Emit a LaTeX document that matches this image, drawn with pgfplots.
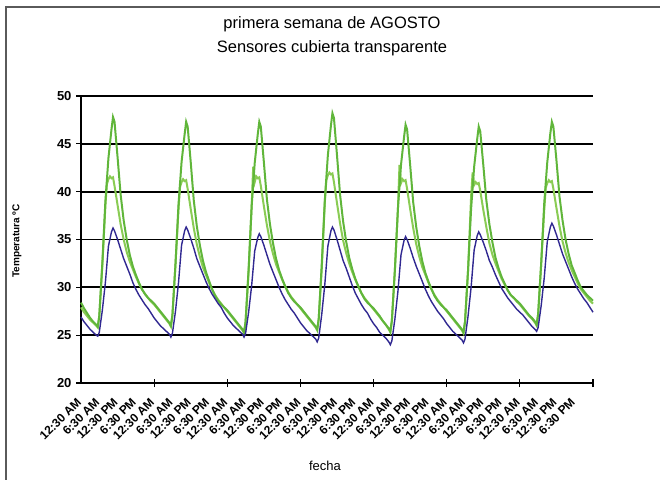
\documentclass[border=0pt]{standalone}
\usepackage{fontspec}
\setmainfont{Liberation Sans}
\setsansfont{Liberation Sans}
\usepackage{pgfplots}
\pgfplotsset{compat=1.18}
\usepackage{pgfplotstable}

\definecolor{sensorblue}{RGB}{48,40,145}
\definecolor{sensorgreenA}{RGB}{96,182,58}
\definecolor{sensorgreenB}{RGB}{138,204,84}
\definecolor{framegray}{RGB}{90,90,90}

% hourly readings, h = hours since 12:30 AM of the first day
\pgfplotstableread{
h t
0 26.9
1 26.4
2 26.0
3 25.6
4 25.3
5 25.0
5.5 24.9
6 25.3
7 27.6
8 30.5
9 34.3
10 35.8
10.5 36.2
11 35.9
12 35.0
13 34.0
14 33.0
15 32.2
16 31.4
17 30.5
18 29.8
19 29.2
20 28.7
21 28.2
22 27.8
23 27.3
24 26.8
25 26.4
26 26.0
27 25.7
28 25.4
29 25.1
29.5 24.8
30 25.2
31 27.5
32 30.5
33 34.4
34 35.9
34.5 36.3
35 36.0
36 35.1
37 34.1
38 33.0
39 32.2
40 31.4
41 30.6
42 29.9
43 29.3
44 28.8
45 28.3
46 27.9
47 27.3
48 26.8
49 26.4
50 26.0
51 25.7
52 25.4
53 25.1
53.5 24.8
54 25.2
55 27.4
56 30.2
57 33.8
58 35.2
58.5 35.6
59 35.3
60 34.4
61 33.4
62 32.4
63 31.6
64 30.8
65 30.0
66 29.3
67 28.7
68 28.2
69 27.7
70 27.3
71 26.8
72 26.3
73 25.9
74 25.5
75 25.2
76 24.9
77 24.6
77.5 24.3
78 24.7
79 27.2
80 30.3
81 34.3
82 35.9
82.5 36.3
83 36.0
84 35.0
85 33.9
86 32.8
87 32.0
88 31.1
89 30.2
90 29.4
91 28.8
92 28.2
93 27.7
94 27.3
95 26.7
96 26.2
97 25.8
98 25.3
99 25.0
100 24.7
101 24.3
101.5 24.0
102 24.4
103 26.7
104 29.6
105 33.4
106 34.9
106.5 35.3
107 35.0
108 34.1
109 33.1
110 32.2
111 31.4
112 30.6
113 29.8
114 29.1
115 28.5
116 28.0
117 27.5
118 27.1
119 26.7
120 26.2
121 25.8
122 25.4
123 25.1
124 24.8
125 24.5
125.5 24.2
126 24.6
127 27.0
128 30.0
129 33.9
130 35.4
130.5 35.8
131 35.5
132 34.7
133 33.8
134 32.8
135 32.1
136 31.3
137 30.6
138 29.9
139 29.4
140 28.9
141 28.5
142 28.1
143 27.7
144 27.4
145 27.1
146 26.7
147 26.3
148 25.9
149 25.6
149.5 25.4
150 25.8
151 28.1
152 31.0
153 34.8
154 36.3
154.5 36.7
155 36.4
156 35.5
157 34.5
158 33.5
159 32.7
160 31.9
161 31.1
162 30.4
163 29.8
164 29.3
165 28.8
166 28.4
167 27.9
168 27.4
}\sensorB

\pgfplotstableread{
h t
0 28.4
1 27.8
2 27.3
3 26.8
4 26.4
5 26.1
5.5 25.9
6 27.0
7 32.5
8 39.0
9 43.5
10 46.5
10.5 47.8
11 47.3
12 43.6
13 39.7
14 37.0
15 35.0
16 33.4
17 32.2
18 31.3
19 30.5
20 29.8
21 29.3
22 28.9
23 28.6
24 28.3
25 27.9
26 27.5
27 27.1
28 26.7
29 26.3
29.5 26.0
30 27.1
31 32.4
32 38.7
33 43.1
34 46.0
34.5 47.3
35 46.8
36 43.1
37 39.1
38 36.4
39 34.4
40 32.8
41 31.6
42 30.7
43 29.8
44 29.1
45 28.6
46 28.2
47 27.9
48 27.6
49 27.2
50 26.8
51 26.4
52 26.0
53 25.6
53.5 25.3
54 26.4
55 31.9
56 38.5
57 43.0
58 46.0
58.5 47.3
59 46.8
60 43.1
61 39.2
62 36.6
63 34.6
64 33.0
65 31.8
66 30.9
67 30.1
68 29.4
69 28.9
70 28.5
71 28.2
72 27.9
73 27.5
74 27.1
75 26.7
76 26.3
77 25.9
77.5 25.6
78 26.7
79 32.4
80 39.1
81 43.8
82 46.9
82.5 48.2
83 47.7
84 43.8
85 39.7
86 36.9
87 34.8
88 33.1
89 31.9
90 30.9
91 30.1
92 29.4
93 28.8
94 28.4
95 28.1
96 27.8
97 27.4
98 27.0
99 26.5
100 26.1
101 25.7
101.5 25.4
102 26.5
103 31.9
104 38.3
105 42.8
106 45.7
106.5 47.0
107 46.5
108 42.8
109 38.9
110 36.3
111 34.3
112 32.7
113 31.5
114 30.6
115 29.8
116 29.1
117 28.6
118 28.2
119 27.9
120 27.6
121 27.2
122 26.8
123 26.4
124 26.0
125 25.6
125.5 25.3
126 26.4
127 31.8
128 38.2
129 42.6
130 45.5
130.5 46.8
131 46.3
132 42.8
133 39.1
134 36.6
135 34.7
136 33.1
137 32.0
138 31.1
139 30.4
140 29.7
141 29.2
142 28.9
143 28.6
144 28.3
145 27.9
146 27.5
147 27.1
148 26.8
149 26.4
149.5 26.1
150 27.2
151 32.5
152 38.8
153 43.1
154 46.1
154.5 47.3
155 46.8
156 43.3
157 39.5
158 37.0
159 35.0
160 33.5
161 32.3
162 31.5
163 30.7
164 30.0
165 29.6
166 29.2
167 28.9
168 28.6
}\sensorGa

\pgfplotstableread{
h t
0 27.9
1 27.4
2 27.0
3 26.6
4 26.3
5 26.0
5.5 25.8
6 27.0
7 32.3
8 38.5
8.5 40.8
9 41.3
9.5 41.6
10 41.4
10.5 41.5
11 40.6
12 38.6
13 36.6
14 35.0
15 33.7
16 32.7
17 31.9
18 31.1
19 30.4
20 29.8
21 29.3
22 28.9
23 28.5
24 28.2
25 27.8
26 27.4
27 27.0
28 26.6
29 26.2
29.5 25.9
30 27.1
31 32.4
32 38.2
32.5 40.5
33 41.0
33.5 41.3
34 41.1
34.5 41.2
35 40.3
36 38.2
37 36.2
38 34.5
39 33.2
40 32.1
41 31.3
42 30.5
43 29.8
44 29.2
45 28.7
46 28.3
47 27.9
48 27.5
49 27.1
50 26.7
51 26.3
52 25.9
53 25.5
53.5 25.2
54 26.4
55 31.7
56 38.5
56.5 42.6
57 41.0
57.5 41.6
58 41.4
58.5 41.5
59 40.6
60 38.5
61 36.5
62 34.8
63 33.5
64 32.4
65 31.6
66 30.8
67 30.1
68 29.5
69 29.0
70 28.6
71 28.2
72 27.8
73 27.4
74 27.0
75 26.6
76 26.2
77 25.8
77.5 25.5
78 26.7
79 32.0
80 38.9
80.5 41.2
81 41.7
81.5 42.0
82 41.8
82.5 41.9
83 41.0
84 38.8
85 36.7
86 34.9
87 33.6
88 32.5
89 31.6
90 30.8
91 30.1
92 29.4
93 28.9
94 28.5
95 28.1
96 27.7
97 27.3
98 26.9
99 26.5
100 26.1
101 25.6
101.5 25.3
102 26.5
103 31.8
104 38.2
104.5 42.8
105 40.9
105.5 41.3
106 41.1
106.5 41.2
107 40.3
108 38.2
109 36.2
110 34.5
111 33.2
112 32.1
113 31.3
114 30.5
115 29.8
116 29.2
117 28.7
118 28.3
119 27.9
120 27.5
121 27.1
122 26.7
123 26.3
124 25.9
125 25.5
125.5 25.2
126 26.4
127 31.7
128 39.5
128.5 42.0
129 40.7
129.5 41.0
130 40.8
130.5 40.9
131 40.1
132 38.1
133 36.3
134 34.6
135 33.4
136 32.5
137 31.7
138 30.9
139 30.3
140 29.7
141 29.2
142 28.9
143 28.5
144 28.2
145 27.8
146 27.4
147 27.0
148 26.7
149 26.3
149.5 26.0
150 27.2
151 32.5
152 38.1
152.5 40.4
153 40.9
153.5 41.2
154 41.0
154.5 41.1
155 40.3
156 38.3
157 36.4
158 34.8
159 33.6
160 32.6
161 31.8
162 31.1
163 30.4
164 29.8
165 29.4
166 29.0
167 28.6
168 28.3
}\sensorGb

\begin{document}
\begin{tikzpicture}[x=1pt,y=1pt]
\useasboundingbox (0,0) rectangle (660,479);
\fill[white] (0,0) rectangle (660,479);
% chart frame
\draw[framegray, line width=1.2pt] (6,-5) -- (6,472) -- (665,472);

\node[font=\fontsize{16.5}{23.5}\selectfont, align=center] at (332,443)
  {primera semana de AGOSTO\\Sensores cubierta transparente};

\begin{axis}[
  at={(81pt,96pt)}, anchor=south west,
  scale only axis, width=512pt, height=287pt,
  xmin=0, xmax=168, ymin=20, ymax=50,
  axis lines*=left,
  axis line style={black, line width=1.5pt},
  major tick length=0pt,
  tick style={black, line width=1.2pt},
  ytick={20,25,...,50},
  ymajorgrids,
  grid style={black, line width=1.8pt},
  yticklabel style={font=\fontsize{13}{13}\selectfont\bfseries, xshift=-6pt},
  /pgf/number format/assume math mode=true,
  extra y ticks={20,25,...,50},
  extra y tick labels={},
  extra y tick style={major tick length=5pt, ytick align=outside, grid=none},
  xtick={0,6,...,162},
  xticklabels={12:30 AM,6:30 AM,12:30 PM,6:30 PM,12:30 AM,6:30 AM,12:30 PM,6:30 PM,
    12:30 AM,6:30 AM,12:30 PM,6:30 PM,12:30 AM,6:30 AM,12:30 PM,6:30 PM,
    12:30 AM,6:30 AM,12:30 PM,6:30 PM,12:30 AM,6:30 AM,12:30 PM,6:30 PM,
    12:30 AM,6:30 AM,12:30 PM,6:30 PM},
  xticklabel style={font=\fontsize{12}{12}\selectfont\bfseries,
    xshift=-5pt, yshift=-14pt, rotate=45, anchor=north east, inner sep=0pt},
  extra x ticks={24,48,...,168},
  extra x tick labels={},
  extra x tick style={major tick length=8pt, xtick align=center, grid=none},
  clip=false,
]
\addplot[sensorgreenB, line width=2pt] table[x=h, y=t] {\sensorGb};
\addplot[sensorgreenA, line width=2pt] table[x=h, y=t] {\sensorGa};
\addplot[sensorblue, line width=1.4pt] table[x=h, y=t] {\sensorB};
\end{axis}

\node[font=\fontsize{10}{10}\selectfont\bfseries, rotate=90] at (17,238) {Temperatura ºC};
\node[font=\fontsize{13}{13}\selectfont] at (325,13) {fecha};
\end{tikzpicture}
\end{document}
